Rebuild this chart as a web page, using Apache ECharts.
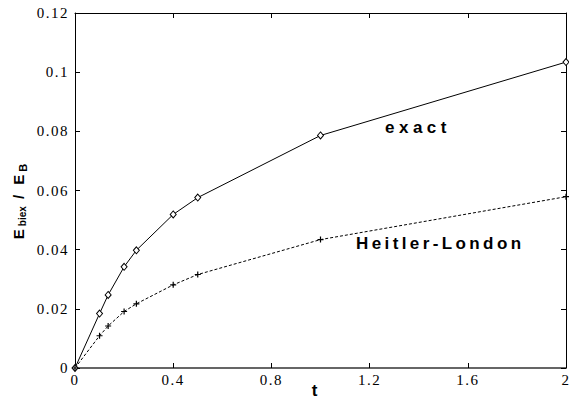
<!DOCTYPE html>
<html>
<head>
<meta charset="utf-8">
<script src="https://cdn.jsdelivr.net/npm/echarts@6/dist/echarts.min.js"></script>
<style>
  html, body { margin: 0; padding: 0; background: #fff; }
  #chart { width: 569px; height: 400px; }
</style>
</head>
<body>
<div id="chart"></div>
<script>
// Biexciton binding energy versus hopping ratio t
const tValues = [0, 0.1, 0.135, 0.2, 0.25, 0.4, 0.5, 1, 2];
const exactValues = [0, 0.0184, 0.0247, 0.0342, 0.0398, 0.0519, 0.0576, 0.0786, 0.1034];
const heitlerLondonValues = [0, 0.0109, 0.0142, 0.0191, 0.0217, 0.0281, 0.0316, 0.0434, 0.0579];
const seriesNames = ['exact', 'Heitler-London'];
const xTickLabels = ['0', '0.4', '0.8', '1.2', '1.6', '2'];
const yTickLabels = ['0', '0.02', '0.04', '0.06', '0.08', '0.1', '0.12'];
const xRange = { min: 0, max: 2, step: 0.4 };
const yRange = { min: 0, max: 0.12, step: 0.02 };

const pairs = (xs, ys) => xs.map((x, i) => [x, ys[i]]);
const labelFrom = (labels, range) => v => labels[Math.round((v - range.min) / range.step)] ?? '';

const serif = 'Liberation Serif';
const sans = 'Liberation Sans';
const plusPath = 'path://M4,0H6V4H10V6H6V10H4V6H0V4H4Z';
const slashPart = '\u00A0/\u00A0E';   // non-breaking spaces survive SVG whitespace collapsing

const baseAxis = (pos, range, labels) => ({
  type: 'value',
  position: pos,
  min: range.min,
  max: range.max,
  interval: range.step,
  splitLine: { show: false },
  axisLine: { show: true, onZero: false, lineStyle: { color: '#000', width: 1 } },
  axisTick: { show: true, inside: true, length: 5, lineStyle: { color: '#000', width: 1 } },
  axisLabel: {
    show: !!labels,
    formatter: labels ? labelFrom(labels, range) : '',
    fontFamily: serif,
    fontSize: 15,
    color: '#000'
  }
});

const chart = echarts.init(document.getElementById('chart'), null, { renderer: 'svg' });

const xBottom = baseAxis('bottom', xRange, xTickLabels);
xBottom.axisLabel.margin = 4;
xBottom.axisLine.lineStyle = { color: '#333', width: 1.5 };
xBottom.name = 't';
xBottom.nameLocation = 'middle';
xBottom.nameGap = 15;
xBottom.nameMoveOverlap = false;
xBottom.nameTextStyle = {
  fontFamily: sans, fontWeight: 'bold', fontSize: 17, lineHeight: 15,
  color: '#000', padding: [0, 12, 0, 0]
};

const yLeft = baseAxis('left', yRange, yTickLabels);
yLeft.axisLabel.margin = 6;
// E_biex / E_B; the middle token is centred, so its extra tracking is split evenly
yLeft.name = '{m|E}{s|biex}{w|' + slashPart + '}{b|B}';
yLeft.nameLocation = 'middle';
yLeft.nameGap = 47;
yLeft.nameMoveOverlap = false;
yLeft.nameTextStyle = {
  color: '#000',
  padding: [0, 22, 0, 0],
  rich: {
    m: { fontFamily: sans, fontWeight: 'bold', fontSize: 15, color: '#000', padding: [0, 3, 0, 0] },
    s: { fontFamily: sans, fontWeight: 'bold', fontSize: 10, color: '#000', padding: [8, 0, 0, 0] },
    w: { fontFamily: sans, fontWeight: 'bold', fontSize: 15, color: '#000', padding: [0, 6, 0, 6] },
    b: { fontFamily: sans, fontWeight: 'bold', fontSize: 11, color: '#000', padding: [8, 0, 0, 0] }
  }
};

chart.setOption({
  animation: false,
  backgroundColor: '#fff',
  grid: { left: 75, right: 3, top: 13, bottom: 32, containLabel: false, outerBoundsMode: 'none' },
  xAxis: [xBottom, baseAxis('top', xRange, null)],
  yAxis: [yLeft, baseAxis('right', yRange, null)],
  series: [
    {
      name: seriesNames[0],
      type: 'line',
      data: pairs(tValues, exactValues),
      clip: false,
      symbol: 'diamond',
      symbolSize: [6, 7],
      lineStyle: { color: '#000', width: 1 },
      itemStyle: { color: '#fff', borderColor: '#000', borderWidth: 1 },
      emphasis: { disabled: true }
    },
    {
      name: seriesNames[1],
      type: 'line',
      data: pairs(tValues, heitlerLondonValues),
      clip: false,
      symbol: plusPath,
      symbolSize: 6,
      lineStyle: { color: '#000', width: 1, type: [3, 2] },
      itemStyle: { color: '#000' },
      emphasis: { disabled: true }
    }
  ],
  graphic: [
    {
      type: 'text', left: 385, top: 119,
      style: { text: seriesNames[0], font: 'bold 17px ' + sans, fill: '#000' }
    },
    {
      type: 'text', left: 356, top: 235,
      style: { text: seriesNames[1], font: 'bold 17px ' + sans, fill: '#000' }
    }
  ]
});

// widen the tracking of captions, the axis title and the tick numbers
const spacing = { 'exact': 4.5, 'Heitler-London': 3.4 };
spacing[slashPart] = 3;
xTickLabels.concat(yTickLabels).forEach(s => { spacing[s] = 1.5; });
const applySpacing = () => {
  document.querySelectorAll('#chart svg text').forEach(el => {
    const s = spacing[el.textContent];
    if (s) el.style.letterSpacing = s + 'px';
  });
};
chart.on('finished', applySpacing);
applySpacing();
</script>
</body>
</html>
